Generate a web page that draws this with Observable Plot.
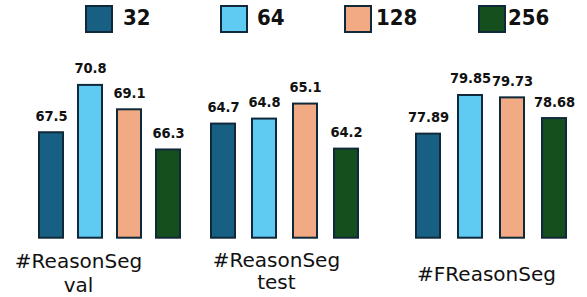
<!DOCTYPE html>
<html>
<head>
<meta charset="utf-8">
<script src="https://cdn.jsdelivr.net/npm/d3@7"></script>
<script src="https://cdn.jsdelivr.net/npm/@observablehq/plot@0.6"></script>
<style>
  html, body { margin: 0; padding: 0; background: #fff; }
  #wrap { position: relative; width: 587px; height: 297px; overflow: hidden; font-family: "DejaVu Sans", sans-serif; }
  .sw { position: absolute; top: 5px; width: 24px; height: 24px; border: 2px solid #10293a; box-sizing: content-box; }
  .lt { position: absolute; top: 3px; font-family: "DejaVu Sans Condensed", "DejaVu Sans", sans-serif; font-stretch: condensed; font-weight: bold; font-size: 22px; line-height: 30px; color: #111; }
  .pl { position: absolute; left: 0; top: 40px; pointer-events: none; }
</style>
</head>
<body>
<div id="wrap"></div>
<script>
// ---- data ----
const series = ["32", "64", "128", "256"];
const colors = ["#176084", "#5fcaf2", "#f2aa85", "#154f1d"];
const groups = ["#ReasonSeg\nval", "#ReasonSeg\ntest", "#FReasonSeg"];
const reasonSegVal  = [67.5, 70.8, 69.1, 66.3];
const reasonSegTest = [64.7, 64.8, 65.1, 64.2];
const fReasonSeg    = [77.89, 79.85, 79.73, 78.68];
const groupValues = [reasonSegVal, reasonSegTest, fReasonSeg];

// ---- layout (not data) ----
const legendSwatchX = [85, 220, 344, 478];
const legendTextX = [123, 257, 376, 508];
const layouts = [
  {yDomain: [60.15, 73.93], xRange: [31.75, 187.75], padding: 0.372, dx: -215.5, dy: 13, lh: 1.2},
  {yDomain: [62.42, 66.37], xRange: [201.6, 367.3], padding: 0.404, dx: -17.6, dy: 13, lh: 1.12},
  {yDomain: [72.61, 82.64], xRange: [406.0, 575.7], padding: 0.4226, dx: 192.5, dy: 26, lh: 1.2}
];

const wrap = document.getElementById("wrap");

// legend
series.forEach((s, i) => {
  const sw = document.createElement("div");
  sw.className = "sw";
  sw.style.left = legendSwatchX[i] + "px";
  sw.style.background = colors[i];
  wrap.appendChild(sw);
  const t = document.createElement("div");
  t.className = "lt";
  t.style.left = legendTextX[i] + "px";
  t.textContent = s;
  wrap.appendChild(t);
});

// one plot per group (each has its own y scale)
groups.forEach((g, gi) => {
  const L = layouts[gi];
  const data = series.map((s, i) => ({series: s, value: groupValues[gi][i]}));
  const base = L.yDomain[0];
  const chart = Plot.plot({
    width: 587,
    height: 257,
    marginTop: 0,
    marginBottom: 59.3,
    marginLeft: 0,
    marginRight: 0,
    style: {background: "transparent", overflow: "visible"},
    x: {domain: series, range: L.xRange, paddingInner: L.padding, paddingOuter: L.padding / 2, align: 0.5, axis: null},
    y: {domain: L.yDomain, axis: null},
    color: {domain: series, range: colors},
    marks: [
      Plot.rectY(data, {
        x: "series", y1: () => base, y2: "value",
        fill: "series", stroke: "#10293a", strokeWidth: 2
      }),
      Plot.text(data, {
        x: "series", y: "value", text: d => String(d.value),
        lineAnchor: "bottom", dy: -12,
        fontSize: 14.5, fontWeight: "bold",
        fontFamily: "'DejaVu Sans Condensed', 'DejaVu Sans', sans-serif",
        fontStretch: "condensed",
        fill: "#111"
      }),
      Plot.text([g], {
        text: d => d, frameAnchor: "bottom", textAnchor: "middle",
        lineAnchor: "top", dx: L.dx, dy: L.dy, lineHeight: L.lh,
        fontSize: 20, fontFamily: "DejaVu Sans, sans-serif", fill: "#111"
      })
    ]
  });
  chart.classList.add("pl");
  wrap.appendChild(chart);
});
</script>
</body>
</html>
